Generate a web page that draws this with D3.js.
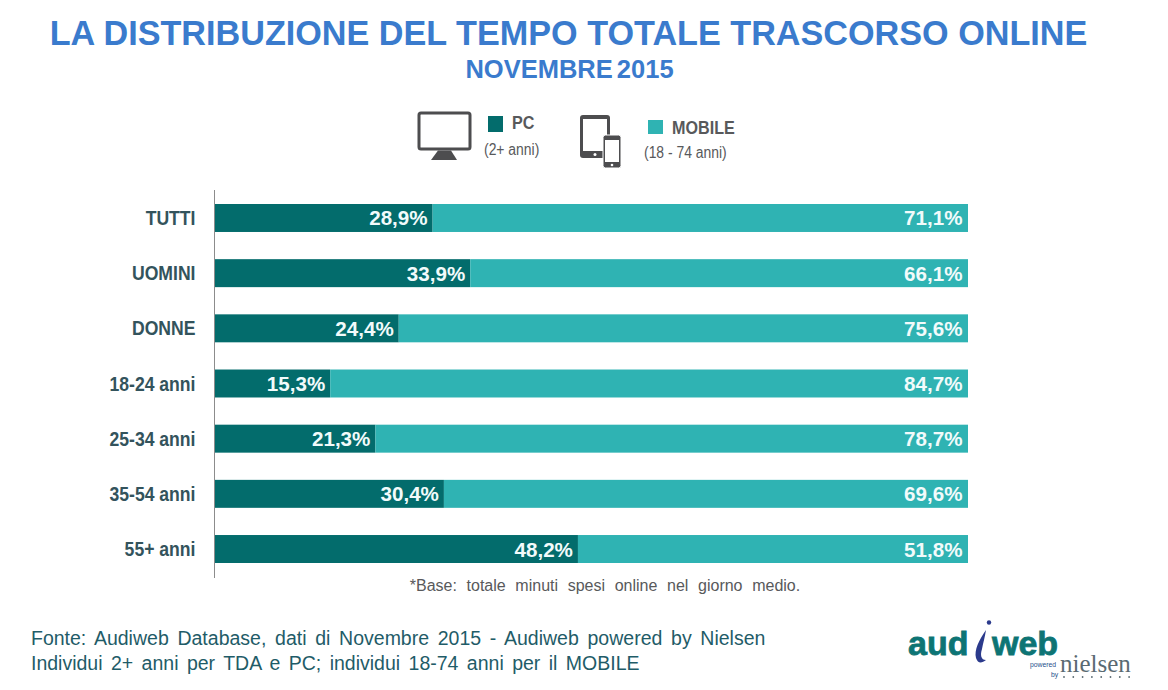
<!DOCTYPE html>
<html>
<head>
<meta charset="utf-8">
<script src="https://d3js.org/d3.v7.min.js"></script>
<style>
  html, body { margin: 0; padding: 0; background: #fff; }
  svg { display: block; }
  text { font-family: "Liberation Sans", Arial, sans-serif; }
</style>
</head>
<body>
<div id="chart"></div>
<script>
// dati
const categories = ["TUTTI", "UOMINI", "DONNE", "18-24 anni", "25-34 anni", "35-54 anni", "55+ anni"];
const pcValues = [28.9, 33.9, 24.4, 15.3, 21.3, 30.4, 48.2];
const mobileValues = [71.1, 66.1, 75.6, 84.7, 78.7, 69.6, 51.8];

const pcColor = "#036c6c";
const mobileColor = "#2fb3b3";
const iconColor = "#4d4d4f";
const blue = "#3a7bcd";

const svg = d3.select("#chart").append("svg")
    .attr("width", 1168)
    .attr("height", 690);

// testo stretto (tipo Arial Narrow), scala solo in orizzontale
function narrowText(parent, x, y, sx, str) {
    return parent.append("text")
        .attr("transform", `translate(${x},${y}) scale(${sx},1)`)
        .text(str);
}

// titoli
svg.append("text")
    .attr("x", 568.5).attr("y", 45)
    .attr("text-anchor", "middle")
    .style("font-size", "34.2px").style("font-weight", "bold")
    .style("fill", blue)
    .text("LA DISTRIBUZIONE DEL TEMPO TOTALE TRASCORSO ONLINE");

svg.append("text")
    .attr("x", 569.5).attr("y", 78)
    .attr("text-anchor", "middle")
    .style("font-size", "25.5px").style("font-weight", "bold")
    .style("fill", blue).style("word-spacing", "-3px")
    .text("NOVEMBRE 2015");

// scale
const xScale = d3.scaleLinear().domain([0, 100]).range([215, 968]);
const yScale = d3.scaleBand().domain(categories).range([190.4, 576.6])
    .paddingInner(0.493).paddingOuter(0.2465);

// barre
const rows = svg.append("g").selectAll("g")
    .data(categories)
    .join("g");

rows.append("rect")
    .attr("x", xScale(0))
    .attr("y", d => yScale(d))
    .attr("width", (d, i) => xScale(pcValues[i]) - xScale(0))
    .attr("height", yScale.bandwidth())
    .attr("fill", pcColor);

rows.append("rect")
    .attr("x", (d, i) => xScale(pcValues[i]))
    .attr("y", d => yScale(d))
    .attr("width", (d, i) => xScale(pcValues[i] + mobileValues[i]) - xScale(pcValues[i]))
    .attr("height", yScale.bandwidth())
    .attr("fill", mobileColor);

// etichette valori
const fmt = v => v.toFixed(1).replace(".", ",") + "%";

rows.append("text")
    .attr("x", (d, i) => xScale(pcValues[i]) - 5)
    .attr("y", d => yScale(d) + yScale.bandwidth() / 2 + 7.5)
    .attr("text-anchor", "end")
    .style("font-size", "20.6px").style("font-weight", "bold").style("fill", "#f2fbfb")
    .text((d, i) => fmt(pcValues[i]));

rows.append("text")
    .attr("x", xScale(100) - 5.5)
    .attr("y", d => yScale(d) + yScale.bandwidth() / 2 + 7.5)
    .attr("text-anchor", "end")
    .style("font-size", "20.6px").style("font-weight", "bold").style("fill", "#f2fbfb")
    .text((d, i) => fmt(mobileValues[i]));

// categorie
rows.append("text")
    .attr("transform", d => `translate(195.5,${yScale(d) + yScale.bandwidth() / 2 + 7}) scale(0.88,1)`)
    .attr("text-anchor", "end")
    .style("font-size", "20px").style("font-weight", "bold").style("fill", "#33535c")
    .text(d => d);

// asse verticale
svg.append("line")
    .attr("x1", 214.5).attr("x2", 214.5)
    .attr("y1", 190).attr("y2", 578)
    .attr("stroke", "#8c8c8c").attr("stroke-width", 1);

// legenda
const legend = svg.append("g");

legend.append("rect").attr("x", 488).attr("y", 116).attr("width", 15).attr("height", 16).attr("fill", pcColor);
legend.append("rect").attr("x", 648).attr("y", 120).attr("width", 15).attr("height", 14).attr("fill", mobileColor);

narrowText(legend, 512, 129, 0.85, "PC")
    .style("font-size", "19px").style("font-weight", "bold").style("fill", "#58595b");
narrowText(legend, 672, 134, 0.85, "MOBILE")
    .style("font-size", "19px").style("font-weight", "bold").style("fill", "#58595b");
narrowText(legend, 484, 155, 0.87, "(2+ anni)")
    .style("font-size", "16px").style("fill", "#58595b");
narrowText(legend, 644, 158, 0.87, "(18 - 74 anni)")
    .style("font-size", "16px").style("fill", "#58595b");

// icona monitor
const monitor = svg.append("g");
monitor.append("rect").attr("x", 419).attr("y", 113).attr("width", 51).attr("height", 36).attr("rx", 2)
    .attr("fill", "#fff").attr("stroke", iconColor).attr("stroke-width", 3);
monitor.append("path").attr("d", "M438 150.5 H451 L457 160 H431 Z").attr("fill", iconColor);

// icona tablet e telefono
const devices = svg.append("g");
devices.append("rect").attr("x", 580).attr("y", 115).attr("width", 30).attr("height", 43).attr("rx", 3).attr("fill", iconColor);
devices.append("rect").attr("x", 583).attr("y", 119).attr("width", 24).attr("height", 32).attr("fill", "#fff");
devices.append("circle").attr("cx", 595).attr("cy", 154.5).attr("r", 1.5).attr("fill", "#fff");
devices.append("rect").attr("x", 603).attr("y", 135).attr("width", 18).attr("height", 33).attr("rx", 2.5).attr("fill", iconColor).attr("stroke", "#fff").attr("stroke-width", 1);
devices.append("rect").attr("x", 605).attr("y", 140).attr("width", 14).attr("height", 22).attr("fill", "#fff");
devices.append("circle").attr("cx", 612).attr("cy", 165).attr("r", 1.3).attr("fill", "#fff");

// nota base
svg.append("text")
    .attr("x", 605).attr("y", 591)
    .attr("text-anchor", "middle")
    .style("font-size", "16px").style("fill", "#58595b").style("word-spacing", "5.2px")
    .text("*Base: totale minuti spesi online nel giorno medio.");

// fonte
svg.append("text")
    .attr("x", 31).attr("y", 645)
    .style("font-size", "19.5px").style("fill", "#1f5c68").style("word-spacing", "3.3px")
    .text("Fonte: Audiweb Database, dati di Novembre 2015 - Audiweb powered by Nielsen");
svg.append("text")
    .attr("x", 31).attr("y", 670)
    .style("font-size", "19.5px").style("fill", "#1f5c68").style("word-spacing", "3px")
    .text("Individui 2+ anni per TDA e PC; individui 18-74 anni per il MOBILE");

// logo audiweb
const logo = svg.append("g");
logo.append("text").attr("x", 908).attr("y", 655)
    .style("font-size", "34px").style("font-weight", "bold").style("fill", "#0d7474")
    .style("stroke", "#0d7474").style("stroke-width", 0.8)
    .text("aud");
logo.append("text").attr("x", 992).attr("y", 655)
    .style("font-size", "34px").style("font-weight", "bold").style("fill", "#0d7474")
    .style("stroke", "#0d7474").style("stroke-width", 0.8)
    .text("web");
logo.append("path").attr("d", "M986 630 C979 640 974 650 976 658 C978 664 982 663 986 660 C981 660 980 655 982 649 C983 643 985 637 986 630 Z")
    .attr("fill", "#2b3a8c");
logo.append("circle").attr("cx", 989).attr("cy", 622.5).attr("r", 2.2).attr("fill", "#2b3a8c");
logo.append("text").attr("x", 1030).attr("y", 667)
    .style("font-size", "6.8px").style("fill", "#1f4f8c").text("powered");
logo.append("text").attr("x", 1051).attr("y", 677)
    .style("font-size", "6.8px").style("fill", "#1f4f8c").text("by");
logo.append("text").attr("x", 1060).attr("y", 672)
    .style("font-family", '"Liberation Serif", serif')
    .style("font-size", "25px").style("fill", "#5a6a72")
    .text("nielsen");
logo.selectAll("circle.dot")
    .data(d3.range(8))
    .join("circle")
    .attr("class", "dot")
    .attr("cx", d => 1064 + d * 9.3)
    .attr("cy", 677)
    .attr("r", 0.9)
    .attr("fill", "#5a6a72");
</script>
</body>
</html>
